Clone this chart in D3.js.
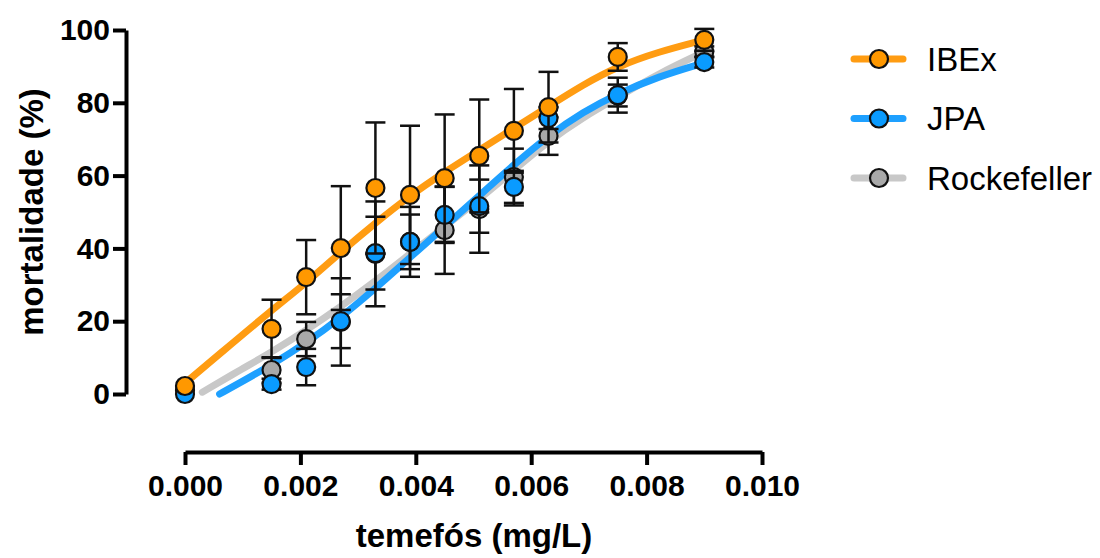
<!DOCTYPE html>
<html>
<head>
<meta charset="utf-8">
<script src="https://cdn.jsdelivr.net/npm/d3@7"></script>
<style>
  body { margin: 0; background: #fff; }
  svg { display: block; font-family: "Liberation Sans", Arial, sans-serif; }
</style>
</head>
<body>
<div id="chart"></div>
<script>
const width = 1100, height = 558;

// doses (mg/L)
const doses = [0, 0.0015, 0.0021, 0.0027, 0.0033, 0.0039, 0.0045, 0.0051, 0.0057, 0.0063, 0.0075, 0.009];

// mean mortality (%) and SD per strain
const ibexMean = [2.2, 17.9, 32.1, 40.1, 56.6, 54.7, 59.3, 65.4, 72.3, 78.8, 92.6, 97.3];
const ibexSd   = [0, 8, 10.2, 17, 18, 19, 17.5, 15.5, 11.5, 9.7, 3.8, 3];
const jpaMean  = [0, 2.7, 7.4, 20, 38.7, 41.8, 49.2, 51.6, 56.9, 75.8, 82.1, 91.2];
const jpaSd    = [0, 1.5, 5, 7.4, 10, 7.5, 7.7, 7.3, 4.4, 3, 4.8, 1.5];
const rockMean = [1, 6.6, 15.1, 19.8, 38.5, 41.8, 45, 50.8, 59.6, 70.9, 82, 94];
const rockSd   = [0, 3.5, 4.7, 12, 14.4, 9.6, 12, 12, 7.8, 5.2, 3, 1.5];

// fitted curves
const ibexFitX = [0, 0.0006, 0.0015, 0.0021, 0.0027, 0.0033, 0.0039, 0.0045, 0.0051, 0.0057, 0.0063, 0.0069, 0.0075, 0.0082, 0.009];
const ibexFitY = [3, 11, 23, 30.5, 39, 47, 54.5, 61, 67, 73, 79, 85, 90, 94, 97.3];
const jpaFitX  = [0.0006, 0.001, 0.0015, 0.0021, 0.0027, 0.0033, 0.0039, 0.0045, 0.0051, 0.0057, 0.0063, 0.0069, 0.0075, 0.0082, 0.009];
const jpaFitY  = [0, 3.5, 8, 14, 21, 29, 37.5, 46, 54.5, 63, 71, 77.5, 82.5, 87.2, 91];
const rockFitX = [0.0003, 0.001, 0.0015, 0.0021, 0.0027, 0.0033, 0.0039, 0.0045, 0.0051, 0.0057, 0.0063, 0.0069, 0.0075, 0.0082, 0.009];
const rockFitY = [0.5, 7, 11.5, 17.5, 24, 31, 38.5, 46, 53.5, 61.5, 69.5, 76, 81.5, 88, 94];

const xTicks = [0, 0.002, 0.004, 0.006, 0.008, 0.010];
const yTicks = [0, 20, 40, 60, 80, 100];

const series = [
  { name: "Rockefeller", mean: rockMean, sd: rockSd, fx: rockFitX, fy: rockFitY, line: "#c8c8c8", fill: "#a9a9a9" },
  { name: "JPA", mean: jpaMean, sd: jpaSd, fx: jpaFitX, fy: jpaFitY, line: "#1ea0ff", fill: "#0a9bff" },
  { name: "IBEx", mean: ibexMean, sd: ibexSd, fx: ibexFitX, fy: ibexFitY, line: "#ff9c12", fill: "#ff9800" }
];

const x = d3.scaleLinear().domain([0, 0.01]).range([185, 762]);
const y = d3.scaleLinear().domain([0, 100]).range([394, 30]);

const svg = d3.select("#chart").append("svg")
    .attr("width", width)
    .attr("height", height);

// axes
const yAxis = svg.append("g")
    .attr("transform", "translate(126,0)")
    .call(d3.axisLeft(y).tickValues(yTicks).tickSize(13).tickSizeOuter(0).tickPadding(3));
const xAxis = svg.append("g")
    .attr("transform", "translate(0,452)")
    .call(d3.axisBottom(x).tickValues(xTicks).tickFormat(d3.format(".3f")).tickSize(13).tickSizeOuter(0).tickPadding(10));

[yAxis, xAxis].forEach(function(a) {
  a.select(".domain").attr("stroke", "#000").attr("stroke-width", 4);
  a.selectAll(".tick line").attr("stroke", "#000").attr("stroke-width", 4);
  a.selectAll(".tick text")
    .attr("fill", "#000")
    .style("font-size", "30px")
    .style("font-weight", "bold")
    .style("font-family", "'Liberation Sans', Arial, sans-serif");
});
xAxis.selectAll(".tick text").attr("dy", "0.71em");

svg.append("text")
    .attr("transform", "translate(43,212)rotate(-90)")
    .attr("text-anchor", "middle")
    .style("font-size", "33px")
    .style("font-weight", "bold")
    .text("mortalidade (%)");

svg.append("text")
    .attr("x", 474)
    .attr("y", 547)
    .attr("text-anchor", "middle")
    .style("font-size", "33px")
    .style("font-weight", "bold")
    .text("temefós (mg/L)");

// fitted curves
const line = d3.line()
    .x(function(d) { return x(d[0]); })
    .y(function(d) { return y(d[1]); })
    .curve(d3.curveBasis);

series.forEach(function(s) {
  svg.append("path")
    .datum(d3.zip(s.fx, s.fy))
    .attr("d", line)
    .attr("fill", "none")
    .attr("stroke", s.line)
    .attr("stroke-width", 7)
    .attr("stroke-linecap", "round");
});

// error bars + points
series.forEach(function(s) {
  const rows = doses.map(function(d, i) { return { x: d, m: s.mean[i], sd: s.sd[i] }; });
  const g = svg.append("g");
  const bars = g.selectAll(".bar")
    .data(rows.filter(function(d) { return d.sd > 0; }))
    .enter().append("g")
    .attr("stroke", "#111")
    .attr("stroke-width", 2.5);
  bars.append("line")
    .attr("x1", function(d) { return x(d.x); })
    .attr("x2", function(d) { return x(d.x); })
    .attr("y1", function(d) { return y(d.m + d.sd); })
    .attr("y2", function(d) { return y(d.m - d.sd); });
  bars.append("line")
    .attr("x1", function(d) { return x(d.x) - 10; })
    .attr("x2", function(d) { return x(d.x) + 10; })
    .attr("y1", function(d) { return y(d.m + d.sd); })
    .attr("y2", function(d) { return y(d.m + d.sd); });
  bars.append("line")
    .attr("x1", function(d) { return x(d.x) - 10; })
    .attr("x2", function(d) { return x(d.x) + 10; })
    .attr("y1", function(d) { return y(d.m - d.sd); })
    .attr("y2", function(d) { return y(d.m - d.sd); });

  g.selectAll("circle")
    .data(rows)
    .enter().append("circle")
    .attr("cx", function(d) { return x(d.x); })
    .attr("cy", function(d) { return y(d.m); })
    .attr("r", 9)
    .attr("fill", s.fill)
    .attr("stroke", "#111")
    .attr("stroke-width", 2.2);
});

// legend
const legendData = series.slice().reverse();
const leg = svg.selectAll(".leg")
    .data(legendData)
    .enter().append("g")
    .attr("transform", function(d, i) { return "translate(0," + (59 + i * 59.5) + ")"; });
leg.append("line")
    .attr("x1", 854).attr("x2", 903)
    .attr("stroke", function(d) { return d.line; })
    .attr("stroke-width", 7)
    .attr("stroke-linecap", "round");
leg.append("circle")
    .attr("cx", 879)
    .attr("r", 9)
    .attr("fill", function(d) { return d.fill; })
    .attr("stroke", "#111")
    .attr("stroke-width", 2.2);
leg.append("text")
    .attr("x", 927)
    .attr("dy", "0.36em")
    .style("font-size", "33px")
    .text(function(d) { return d.name; });
</script>
</body>
</html>
